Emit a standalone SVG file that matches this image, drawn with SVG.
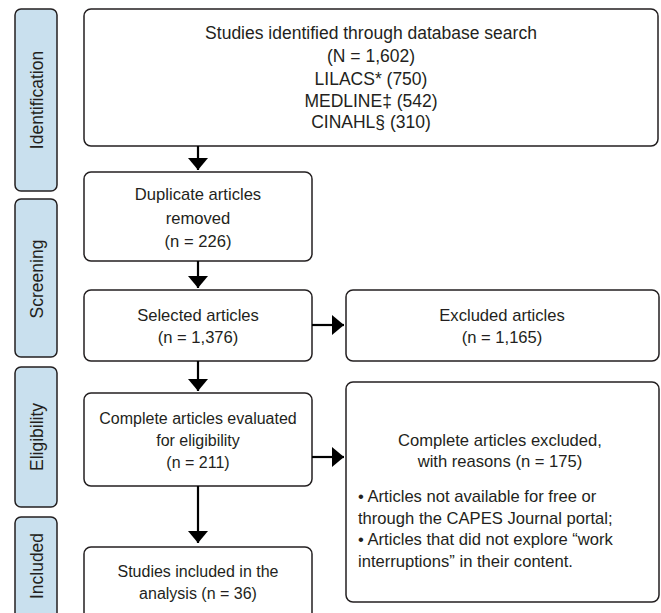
<svg xmlns="http://www.w3.org/2000/svg" width="661" height="613" viewBox="0 0 661 613">
<style>
.box{fill:#fff;stroke:#231f20;stroke-width:1.5}
.side{fill:#c9e0ee;stroke:#231f20;stroke-width:1.5}
text{font-family:"Liberation Sans",Arial,sans-serif;font-size:16px;fill:#231f20}
.c{text-anchor:middle}
.m{font-size:17.5px}
.r{font-size:16.6px}
.s{font-size:17.5px;text-anchor:middle}
.ln{stroke:#000;stroke-width:2.2;fill:none}
</style>
<defs>
<marker id="ahb" viewBox="0 0 12 20" refX="12" refY="10" markerWidth="12" markerHeight="20" markerUnits="userSpaceOnUse" orient="auto">
<path d="M0,0 L12,10 L0,20 z" fill="#000"/>
</marker>
</defs>
<g id="side-identification"><rect class="side" x="15" y="9" width="42" height="182" rx="6"/><text class="s" transform="translate(43,100) rotate(-90)">Identification</text></g>
<g id="side-screening"><rect class="side" x="15" y="199" width="42" height="158" rx="6"/><text class="s" transform="translate(43,279) rotate(-90)">Screening</text></g>
<g id="side-eligibility"><rect class="side" x="15" y="367" width="42" height="140" rx="6"/><text class="s" transform="translate(43,437) rotate(-90)">Eligibility</text></g>
<g id="side-included"><rect class="side" x="15" y="517" width="42" height="110" rx="6"/><text class="s" transform="translate(43,566) rotate(-90)">Included</text></g>
<g id="identified"><rect class="box" x="84" y="9" width="574" height="137" rx="7"/>
<text class="c m" x="371" y="39">Studies identified through database search</text>
<text class="c m" x="371" y="62">(N = 1,602)</text>
<text class="c m" x="371" y="85">LILACS* (750)</text>
<text class="c m" x="371" y="107">MEDLINE‡ (542)</text>
<text class="c m" x="371" y="128">CINAHL§ (310)</text></g>
<g id="duplicates"><rect class="box" x="84" y="172" width="228" height="89" rx="7"/>
<text class="c r" x="198" y="200">Duplicate articles</text>
<text class="c r" x="198" y="224">removed</text>
<text class="c r" x="198" y="247">(n = 226)</text></g>
<g id="selected"><rect class="box" x="84" y="290" width="228" height="71" rx="7"/>
<text class="c r" x="198" y="321">Selected articles</text>
<text class="c r" x="198" y="343">(n = 1,376)</text></g>
<g id="excluded"><rect class="box" x="346" y="290" width="313" height="71" rx="7"/>
<text class="c r" x="502" y="321">Excluded articles</text>
<text class="c r" x="502" y="343">(n = 1,165)</text></g>
<g id="complete"><rect class="box" x="84" y="393" width="228" height="93" rx="7"/>
<text class="c" x="198" y="424">Complete articles evaluated</text>
<text class="c" x="198" y="446">for eligibility</text>
<text class="c" x="198" y="468">(n = 211)</text></g>
<g id="complete-excluded"><rect class="box" x="346" y="382" width="313" height="220" rx="7"/>
<text class="c r" x="500" y="446">Complete articles excluded,</text>
<text class="c r" x="500" y="467">with reasons (n = 175)</text>
<text class="r" x="358" y="502">• Articles not available for free or</text>
<text class="r" x="358" y="524">through the CAPES Journal portal;</text>
<text class="r" x="358" y="545">• Articles that did not explore “work</text>
<text class="r" x="358" y="567">interruptions” in their content.</text></g>
<g id="included"><rect class="box" x="84" y="547" width="228" height="80" rx="7"/>
<text class="c" x="198" y="577">Studies included in the</text>
<text class="c" x="198" y="599">analysis (n = 36)</text></g>
<g id="connectors">
<line class="ln" x1="198" y1="146" x2="198" y2="170" marker-end="url(#ahb)"/>
<line class="ln" x1="198" y1="261" x2="198" y2="288" marker-end="url(#ahb)"/>
<line class="ln" x1="198" y1="361" x2="198" y2="391" marker-end="url(#ahb)"/>
<line class="ln" x1="198" y1="486" x2="198" y2="543" marker-end="url(#ahb)"/>
<line class="ln" x1="312" y1="325" x2="344" y2="325" marker-end="url(#ahb)"/>
<line class="ln" x1="312" y1="457" x2="344" y2="457" marker-end="url(#ahb)"/>
</g>
</svg>
